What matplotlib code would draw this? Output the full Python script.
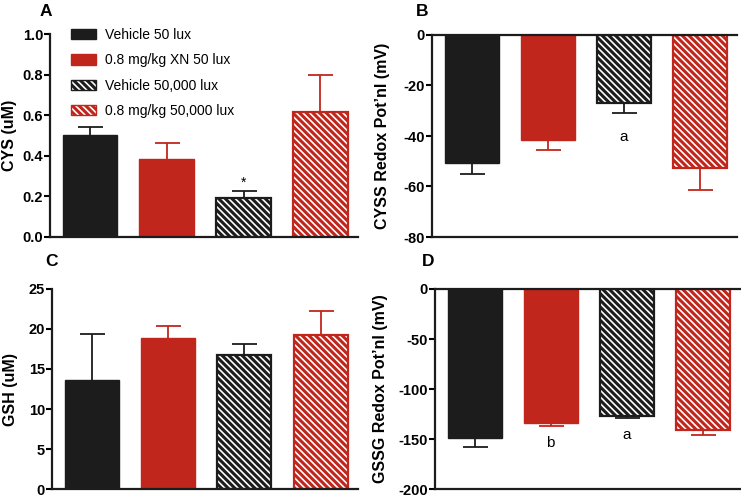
import numpy as np
import matplotlib
matplotlib.use("Agg")
import matplotlib.pyplot as plt
from matplotlib.patches import Patch

plt.rcParams['font.family'] = ['Liberation Sans', 'DejaVu Sans']
plt.rcParams['hatch.linewidth'] = 2.2

# --- data ---
groups = ["Vehicle 50 lux", "0.8 mg/kg XN 50 lux", "Vehicle 50,000 lux", "0.8 mg/kg 50,000 lux"]

cys_mean = [0.50, 0.385, 0.19, 0.615]
cys_err = [0.04, 0.078, 0.035, 0.185]

cyss_mean = [-50.5, -41.5, -27.0, -52.5]
cyss_err = [4.5, 4.0, 4.0, 9.0]

gsh_mean = [13.6, 18.9, 16.8, 19.2]
gsh_err = [5.8, 1.5, 1.3, 3.0]

gssg_mean = [-149, -134, -127, -141]
gssg_err = [9, 3, 2, 5]

BLACK = "#1c1c1c"
RED = "#c1261c"
colors = [BLACK, RED, BLACK, RED]
hatched = [False, False, True, True]
HATCH = "\\" * 5

W, H = 741, 498
fig = plt.figure(figsize=(W / 100, H / 100), dpi=100)


def px_rect(left, top, right, bottom):
    return [left / W, 1 - bottom / H, (right - left) / W, (bottom - top) / H]


def draw_bars(ax, means, errs, negative=False):
    x = np.arange(len(means))
    for i, (m, e) in enumerate(zip(means, errs)):
        c = colors[i]
        if hatched[i]:
            ax.bar(x[i], m, width=0.71, facecolor="white", edgecolor=c,
                   hatch=HATCH, linewidth=1.6, zorder=2)
        else:
            ax.bar(x[i], m, width=0.71, color=c, edgecolor=c, linewidth=1.0, zorder=2)
        # one-sided error bar, away from the baseline
        yerr = [[e], [0]] if negative else [[0], [e]]
        eb = ax.errorbar(x[i], m, yerr=yerr, fmt="none", ecolor=c, elinewidth=1.3,
                         capsize=9, capthick=1.3, zorder=1)
        caps = eb[1]
        caps[1 if negative else 0].set_visible(False)
    ax.set_xlim(-0.52, 3.49)
    ax.set_xticks([])
    for s in ["left", "bottom", "top"]:
        ax.spines[s].set_linewidth(1.6)
        ax.spines[s].set_color(BLACK)
    ax.spines["right"].set_visible(False)
    ax.spines["top"].set_visible(negative)
    ax.tick_params(axis="y", length=4, width=1.5, labelsize=10.5, pad=1)


# Panel A
axA = fig.add_axes(px_rect(50, 34, 358, 237))
draw_bars(axA, cys_mean, cys_err)
axA.set_ylim(0, 1.0)
axA.set_yticks([0, 0.2, 0.4, 0.6, 0.8, 1.0])
axA.set_yticklabels(["0.0", "0.2", "0.4", "0.6", "0.8", "1.0"], fontweight="bold")
axA.set_ylabel("CYS (uM)", fontsize=11.5, fontweight="bold")
axA.yaxis.set_label_coords(-0.107, 0.5)
axA.text(2, 0.265, "*", ha="center", va="center", fontsize=10)

handles = []
for i, g in enumerate(groups):
    if hatched[i]:
        handles.append(Patch(facecolor="white", edgecolor=colors[i], hatch=HATCH,
                             linewidth=1.0, label=g))
    else:
        handles.append(Patch(facecolor=colors[i], edgecolor=colors[i], label=g))
axA.legend(handles=handles, loc="upper left", bbox_to_anchor=(0.068, 1.03),
           frameon=False, fontsize=10, handlelength=1.8, handleheight=0.75,
           handletextpad=0.65, labelspacing=0.82, borderpad=0, borderaxespad=0)

# Panel B
axB = fig.add_axes(px_rect(432, 35, 737, 237))
draw_bars(axB, cyss_mean, cyss_err, negative=True)
axB.set_ylim(-80, 0)
axB.set_yticks([-80, -60, -40, -20, 0])
axB.set_yticklabels(["-80", "-60", "-40", "-20", "0"], fontweight="bold")
axB.set_ylabel("CYSS Redox Pot\u2019nl (mV)", fontsize=11.5, fontweight="bold")
axB.yaxis.set_label_coords(-0.138, 0.5)
axB.text(2, -40.5, "a", ha="center", va="center", fontsize=11)

# Panel C
axC = fig.add_axes(px_rect(52, 289, 358, 489))
draw_bars(axC, gsh_mean, gsh_err)
axC.set_ylim(0, 25)
axC.set_yticks([0, 5, 10, 15, 20, 25])
axC.set_yticklabels(["0", "5", "10", "15", "20", "25"], fontweight="bold")
axC.set_ylabel("GSH (uM)", fontsize=11.5, fontweight="bold")
axC.yaxis.set_label_coords(-0.111, 0.5)

# Panel D
axD = fig.add_axes(px_rect(435, 289, 740, 489))
draw_bars(axD, gssg_mean, gssg_err, negative=True)
axD.set_ylim(-200, 0)
axD.set_yticks([-200, -150, -100, -50, 0])
axD.set_yticklabels(["-200", "-150", "-100", "-50", "0"], fontweight="bold")
axD.set_ylabel("GSSG Redox Pot\u2019nl (mV)", fontsize=11.5, fontweight="bold")
axD.yaxis.set_label_coords(-0.154, 0.5)
axD.text(1, -154, "b", ha="center", va="center", fontsize=11)
axD.text(2, -146, "a", ha="center", va="center", fontsize=11)

# panel letters
for letter, (px, py) in {"A": (46, 11), "B": (422, 12), "C": (51, 262), "D": (428, 262)}.items():
    fig.text(px / W, 1 - py / H, letter, ha="center", va="center",
             fontsize=12.5, fontweight="bold")

fig.savefig("out.png", dpi=100)
